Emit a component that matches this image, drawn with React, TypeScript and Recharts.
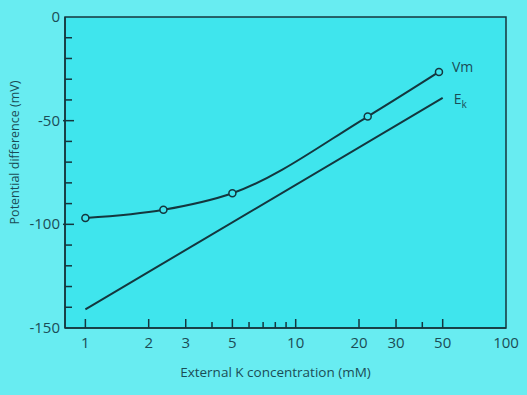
import { LineChart, Line, XAxis, YAxis, ReferenceArea, LabelList } from 'recharts';

// Vm: measured membrane potential (open circles)
const vmConc = [1, 2.35, 5, 22, 48];
const vmValues = [-97, -93, -85, -48, -26.5];

// Ek: Nernst potential (straight line)
const ekConc = [1, 50];
const ekValues = [-141, -39];

const xTicks = [1, 2, 3, 4, 5, 6, 7, 8, 9, 10, 20, 30, 40, 50, 100];
const xLabels = [1, 2, 3, 5, 10, 20, 30, 50, 100];
const yTicks = [-150, -140, -130, -120, -110, -100, -90, -80, -70, -60, -50, -40, -30, -20, -10, 0];
const yLabels = [0, -50, -100, -150];

const vmData = vmConc.map((k, i) => ({ k, v: vmValues[i] }));
const ekData = ekConc.map((k, i) => ({ k, v: ekValues[i] }));

const INK = '#14363e';
const TEXT = '#1b4c56';
const PAGE_BG = '#68ecf1';
const PLOT_BG = '#3fe5ed';
const FONT = '"Open Sans", sans-serif';

function XTick(props: any) {
  const { x, y, payload } = props;
  const v = payload.value;
  const labelled = xLabels.includes(v);
  return (
    <g>
      {v !== 100 && <line x1={x} x2={x} y1={y} y2={y - (labelled ? 9 : 6)} stroke={INK} strokeWidth={1.5} />}
      {labelled && (
        <text x={x} y={y + 20} textAnchor="middle" fill={TEXT} fontSize={15} fontFamily={FONT}>
          {v}
        </text>
      )}
    </g>
  );
}

function YTick(props: any) {
  const { x, y, payload } = props;
  const v = payload.value;
  const labelled = yLabels.includes(v);
  return (
    <g>
      {v !== 0 && v !== -150 && (
        <line x1={x - (labelled ? 2 : 0)} x2={x + (labelled ? 9 : 7)} y1={y} y2={y} stroke={INK} strokeWidth={1.5} />
      )}
      {labelled && (
        <text x={x - 5} y={y + 5} textAnchor="end" fill={TEXT} fontSize={15} fontFamily={FONT}>
          {v === 0 ? '0' : `-${Math.abs(v)}`}
        </text>
      )}
    </g>
  );
}

function YTitle({ viewBox }: any) {
  const cx = viewBox.x + 16;
  const cy = viewBox.y + viewBox.height / 2 - 20;
  return (
    <text x={cx} y={cy} transform={`rotate(-90, ${cx}, ${cy})`} textAnchor="middle" dominantBaseline="middle" fill={TEXT} fontSize={12.5} fontFamily={FONT}>
      Potential difference (mV)
    </text>
  );
}

function XTitle({ viewBox }: any) {
  const cx = viewBox.x + viewBox.width / 2 - 10;
  const cy = viewBox.y + 49;
  return (
    <text x={cx} y={cy} textAnchor="middle" fill={TEXT} fontSize={13.5} fontFamily={FONT}>
      External K concentration (mM)
    </text>
  );
}

function endLabel(kind: 'vm' | 'ek', last: number) {
  return (props: any) => {
    const { x, y, index } = props;
    if (index !== last) return null;
    if (kind === 'vm') {
      return (
        <text x={x + 13} y={y} fill={TEXT} fontSize={14} fontFamily={FONT}>
          Vm
        </text>
      );
    }
    return (
      <text x={x + 11} y={y + 6} fill={TEXT} fontSize={14} fontFamily={FONT}>
        E
        <tspan fontSize={10} dy={4}>k</tspan>
      </text>
    );
  };
}

export default function App() {
  return (
    <div style={{ position: 'fixed', left: 0, top: 0, width: 527, height: 395, background: PAGE_BG }}>
      <LineChart width={527} height={395} margin={{ top: 17, right: 21, bottom: 0, left: 0 }}>
        <XAxis
          type="number"
          dataKey="k"
          scale="log"
          domain={[0.8, 100]}
          allowDataOverflow
          ticks={xTicks}
          interval={0}
          height={67}
          tickSize={0}
          tickMargin={0}
          tick={<XTick />}
          axisLine={{ stroke: INK, strokeWidth: 1.5 }}
          label={<XTitle />}
        />
        <YAxis
          type="number"
          domain={[-150, 0]}
          ticks={yTicks}
          interval={0}
          width={65}
          tickSize={0}
          tickMargin={0}
          tick={<YTick />}
          axisLine={{ stroke: INK, strokeWidth: 1.5 }}
          label={<YTitle />}
        />
        <ReferenceArea x1={0.8} x2={100} y1={-150} y2={0} fill={PLOT_BG} fillOpacity={1} stroke={INK} strokeWidth={1.5} />
        <Line
          data={ekData}
          dataKey="v"
          type="linear"
          stroke={INK}
          strokeWidth={2}
          dot={false}
          isAnimationActive={false}
        >
          <LabelList dataKey="v" content={endLabel('ek', ekData.length - 1)} />
        </Line>
        <Line
          data={vmData}
          dataKey="v"
          type="monotone"
          stroke={INK}
          strokeWidth={2}
          dot={{ r: 3.5, fill: PLOT_BG, stroke: INK, strokeWidth: 1.5 }}
          isAnimationActive={false}
        >
          <LabelList dataKey="v" content={endLabel('vm', vmData.length - 1)} />
        </Line>
      </LineChart>
    </div>
  );
}
